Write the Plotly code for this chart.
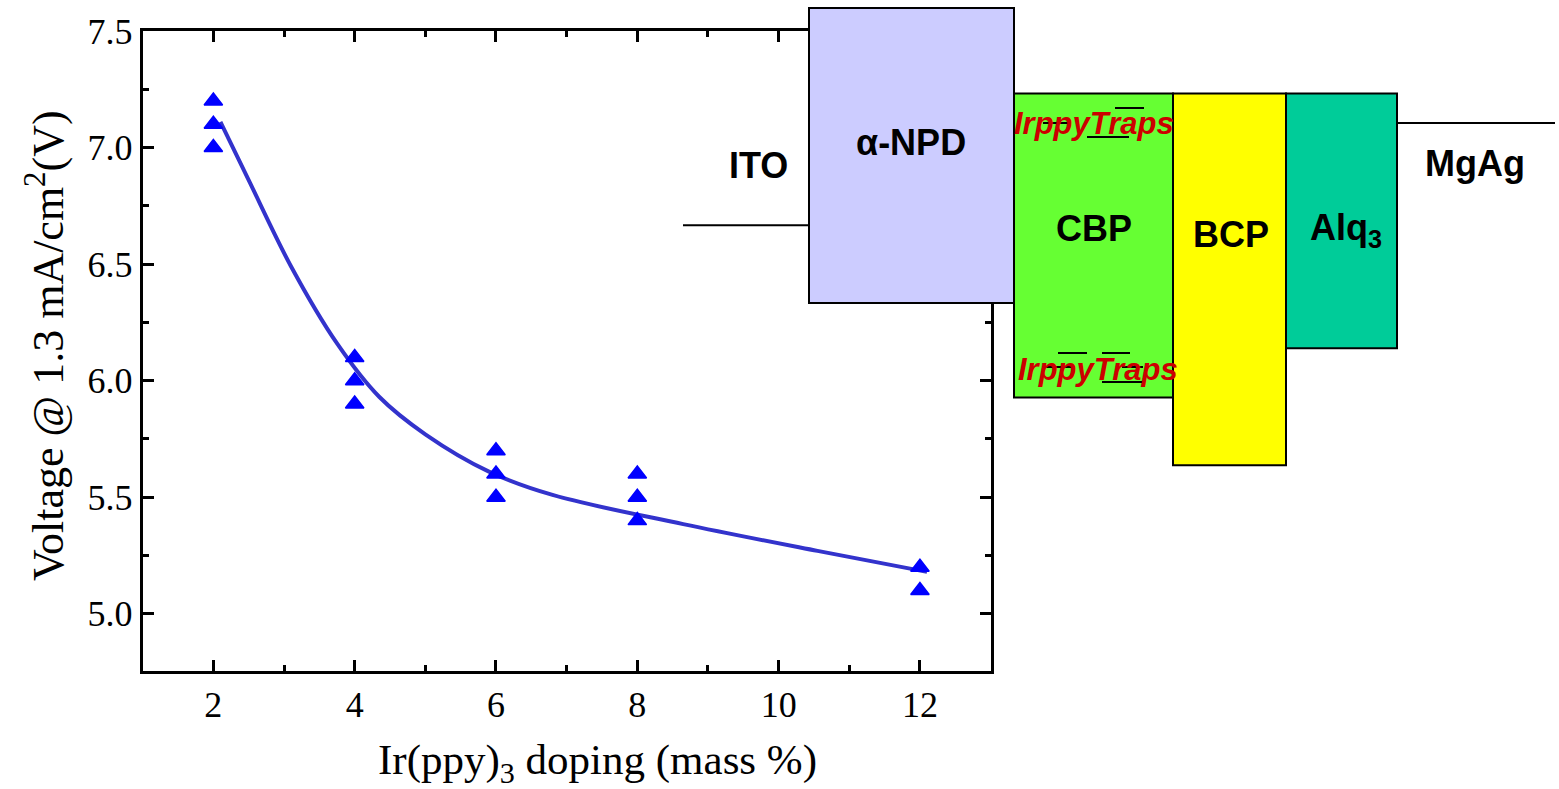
import plotly.graph_objects as go

W, H = 1559, 789

# ---------------- data ----------------
doping_x = [2, 2, 2, 4, 4, 4, 6, 6, 6, 8, 8, 8, 12, 12]
voltage_y = [7.2, 7.1, 7.0, 6.1, 6.0, 5.9, 5.7, 5.6, 5.5, 5.6, 5.5, 5.4, 5.2, 5.1]

fit_x = [2.1, 2.5, 3.1, 3.75, 4.35, 5.0, 5.9, 6.8, 8.65, 10.55, 12.1]
fit_y = [7.11, 6.86, 6.49, 6.16, 5.93, 5.77, 5.61, 5.51, 5.385, 5.27, 5.18]

x_ticks = [2, 4, 6, 8, 10, 12]
y_ticks = [5.0, 5.5, 6.0, 6.5, 7.0, 7.5]
y_tick_text = ["5.0", "5.5", "6.0", "6.5", "7.0", "7.5"]

layer_names = ["α-NPD", "CBP", "BCP", "Alq<sub>3</sub>"]
layer_lumo = [2.40, 3.27, 3.27, 3.27]
layer_homo = [5.40, 6.36, 7.05, 5.86]
electrode_names = ["ITO", "MgAg"]
electrode_wf = [4.61, 3.57]
trap_label = "IrppyTraps"

# ---------------- layout helpers (positions / styles) ----------------
def px(x):
    return x / W

def py(y):
    return 1 - y / H

layer_edges = [809, 1014, 1173, 1286, 1397]          # diagram x (pixels)
layer_fill = ["#ccccff", "#66ff33", "#ffff00", "#00cc99"]
electrode_spans = [(683, 809), (1397, 1555)]
E_PER_PX = (layer_homo[0] - layer_lumo[0]) / 295.0
E_TOP = layer_lumo[0] - 8 * E_PER_PX
E_BOT = layer_lumo[0] + (H - 8) * E_PER_PX

serif = "Liberation Serif"
sans = "Liberation Sans"

fig = go.Figure()

fig.add_trace(go.Scatter(
    x=fit_x, y=fit_y, mode="lines", line=dict(color="#3333cc", width=4, shape="spline", smoothing=1.0),
    xaxis="x", yaxis="y", hoverinfo="skip", showlegend=False))
fig.add_trace(go.Scatter(
    x=doping_x, y=voltage_y, mode="markers",
    marker=dict(symbol="triangle-up", size=16, color="#0000ff", line=dict(color="#0000ff", width=1.5)),
    xaxis="x", yaxis="y", showlegend=False, cliponaxis=False))

# dummy trace to instantiate the diagram subplot
fig.add_trace(go.Scatter(x=[None], y=[None], xaxis="x2", yaxis="y2", showlegend=False, hoverinfo="skip"))

shapes = []
for i, name in enumerate(layer_names):
    shapes.append(dict(type="rect", xref="x2", yref="y2",
                       x0=layer_edges[i], x1=layer_edges[i + 1],
                       y0=layer_lumo[i], y1=layer_homo[i],
                       fillcolor=layer_fill[i], line=dict(color="black", width=2), layer="above"))
for (a, b), wf in zip(electrode_spans, electrode_wf):
    shapes.append(dict(type="line", xref="x2", yref="y2", x0=a, x1=b, y0=wf, y1=wf,
                       line=dict(color="black", width=2), layer="above"))

# little trap-level dashes drawn over the IrppyTraps labels
trap_marks = [(1115, 1144, 108), (1087, 1129, 137), (1043, 1070, 123),
              (1058, 1087, 353), (1102, 1130, 353), (1043, 1072, 367),
              (1122, 1143, 367), (1102, 1143, 382)]

annotations = []
label_pos = {"ITO": (758, 165), "α-NPD": (911, 143), "CBP": (1094, 228), "BCP": (1231, 235),
             "Alq<sub>3</sub>": (1346, 230), "MgAg": (1475, 163)}
for name in electrode_names + layer_names:
    lx, ly = label_pos[name]
    annotations.append(dict(x=px(lx), y=py(ly), xref="paper", yref="paper", text="<b>%s</b>" % name,
                            showarrow=False, font=dict(family=sans, size=36, color="black"),
                            xanchor="center", yanchor="middle"))
for (lx, ly) in [(1094, 123), (1098, 370)]:
    annotations.append(dict(x=px(lx), y=py(ly), xref="paper", yref="paper",
                            text="<b><i>%s</i></b>" % trap_label, showarrow=False,
                            font=dict(family=sans, size=31, color="#cc0000"),
                            xanchor="center", yanchor="middle"))
for (a, b, yy) in trap_marks:
    shapes.append(dict(type="line", xref="paper", yref="paper", x0=px(a), x1=px(b), y0=py(yy), y1=py(yy),
                       line=dict(color="black", width=2), layer="above"))

# axis titles
annotations.append(dict(x=px(597), y=py(763), xref="paper", yref="paper",
                        text="Ir(ppy)<sub>3</sub> doping (mass %)", showarrow=False,
                        font=dict(family=serif, size=43, color="black"), xanchor="center", yanchor="middle"))
annotations.append(dict(x=px(45), y=py(346), xref="paper", yref="paper", textangle=-90,
                        text="Voltage @ 1.3 mA/cm<sup>2</sup>(V)", showarrow=False,
                        font=dict(family=serif, size=44, color="black"), xanchor="center", yanchor="middle"))

axis_common = dict(showgrid=False, zeroline=False, showline=True, linecolor="black", linewidth=3,
                   mirror="allticks", ticks="inside", ticklen=11, tickwidth=3, tickcolor="black",
                   tickfont=dict(family=serif, size=36, color="black"))

fig.update_layout(
    width=W, height=H, margin=dict(l=0, r=0, t=0, b=0),
    paper_bgcolor="white", plot_bgcolor="rgba(0,0,0,0)",
    xaxis=dict(domain=[px(142.7), px(990.6)], range=[1, 13], anchor="y",
               tickvals=x_ticks, ticktext=[str(v) for v in x_ticks],
               minor=dict(dtick=1, tick0=0, ticks="inside", ticklen=6, tickwidth=3, tickcolor="black"),
               automargin=False, **axis_common),
    yaxis=dict(domain=[py(670.5), py(31)], range=[4.757, 7.5], anchor="x",
               tickvals=y_ticks, ticktext=y_tick_text,
               minor=dict(dtick=0.25, tick0=0, ticks="inside", ticklen=6, tickwidth=3, tickcolor="black"),
               automargin=False, **axis_common),
    xaxis2=dict(domain=[0, 1], range=[0, W], anchor="y2", visible=False, fixedrange=True),
    yaxis2=dict(domain=[0, 1], range=[E_BOT, E_TOP], anchor="x2", visible=False, fixedrange=True),
    shapes=shapes, annotations=annotations, showlegend=False,
)

fig.write_html("out.html", config={"displayModeBar": False},
               post_script="document.body.style.margin='0';document.body.style.overflow='hidden';")
